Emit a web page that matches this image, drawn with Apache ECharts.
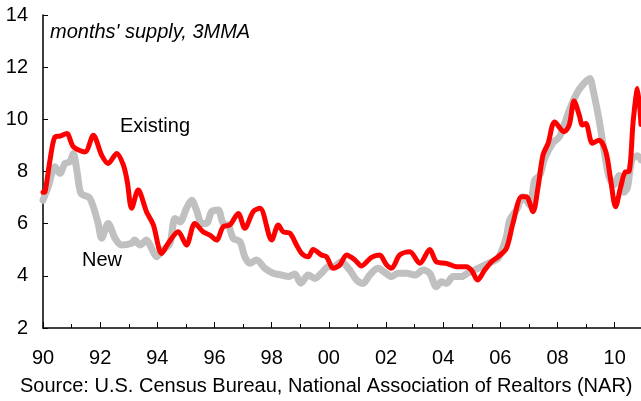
<!DOCTYPE html>
<html>
<head>
<meta charset="utf-8">
<script src="https://cdn.jsdelivr.net/npm/echarts@6/dist/echarts.min.js"></script>
<style>
  html, body { margin: 0; padding: 0; background: #fff; }
  #chart { width: 641px; height: 401px; }
</style>
</head>
<body>
<div id="chart"></div>
<script>
// months' supply, 3 month moving average
var existingYears = [1990.0, 1990.07, 1990.24, 1990.42, 1990.6, 1990.83, 1991.06, 1991.47, 1991.76, 1992.05,
  1992.28, 1992.58, 1992.81, 1992.95, 1993.1, 1993.33, 1993.62, 1993.86, 1994.15, 1994.38,
  1994.73, 1995.02, 1995.31, 1995.6, 1995.84, 1996.07, 1996.3, 1996.54, 1996.83, 1997.06,
  1997.35, 1997.59, 1998.0, 1998.23, 1998.4, 1998.64, 1998.87, 1999.05, 1999.28, 1999.45,
  1999.74, 1999.92, 2000.15, 2000.38, 2000.62, 2000.91, 2001.14, 2001.49, 2001.78, 2002.0,
  2002.19, 2002.48, 2002.83, 2003.18, 2003.53, 2003.76, 2004.11, 2004.46, 2004.81, 2005.0,
  2005.2, 2005.45, 2005.69, 2005.92, 2006.21, 2006.44, 2006.74, 2006.91, 2007.14, 2007.32,
  2007.49, 2007.67, 2007.9, 2008.23, 2008.41, 2008.58, 2008.76, 2008.87, 2008.99, 2009.22,
  2009.45, 2009.69, 2009.86, 2010.03, 2010.21, 2010.38, 2010.5, 2010.65, 2010.8, 2010.92];
var existingValues = [7.2, 7.22, 8.4, 9.33, 9.36, 9.46, 8.95, 8.75, 9.39, 8.63,
  8.31, 8.69, 8.25, 7.6, 6.59, 7.29, 6.46, 5.95, 4.86, 5.25,
  5.69, 5.18, 6.01, 5.69, 5.56, 5.37, 5.88, 5.95, 6.39, 5.82,
  6.46, 6.59, 5.37, 5.95, 5.69, 5.63, 5.18, 4.86, 4.73, 5.01,
  4.8, 4.73, 4.29, 4.41, 4.8, 4.61, 4.38, 4.71, 4.8, 4.45,
  4.29, 4.8, 4.92, 4.48, 5.01, 4.54, 4.48, 4.35, 4.35, 4.2,
  3.84, 4.22, 4.54, 4.73, 5.05, 6.01, 7.03, 7.03, 6.46, 7.41,
  8.63, 9.08, 9.9, 9.52, 9.78, 10.7, 10.16, 9.78, 9.84, 9.08,
  9.2, 8.76, 7.67, 6.65, 7.41, 7.99, 8.0, 9.97, 11.18, 9.8];

var newYears = [1990.0, 1990.18, 1990.42, 1990.59, 1990.77, 1990.94, 1991.06, 1991.2, 1991.33, 1991.64,
  1991.93, 1992.05, 1992.28, 1992.52, 1992.75, 1993.1, 1993.2, 1993.4, 1993.62, 1993.8,
  1993.97, 1994.2, 1994.44, 1994.62, 1994.79, 1995.02, 1995.2, 1995.37, 1995.55, 1995.72,
  1995.9, 1996.13, 1996.3, 1996.48, 1996.65, 1996.89, 1997.06, 1997.24, 1997.47, 1997.76,
  1998.05, 1998.35, 1998.58, 1998.81, 1999.02, 1999.28, 1999.51, 1999.74, 1999.98, 2000.15,
  2000.44, 2000.73, 2000.97, 2001.2, 2001.43, 2001.72, 2001.96, 2002.19, 2002.43, 2002.72,
  2003.01, 2003.3, 2003.53, 2003.76, 2003.94, 2004.11, 2004.35, 2004.64, 2004.85, 2005.1,
  2005.22, 2005.57, 2005.92, 2006.21, 2006.33, 2006.56, 2006.8, 2007.03, 2007.2, 2007.38,
  2007.55, 2007.84, 2008.08, 2008.41, 2008.7, 2008.87, 2009.04, 2009.13, 2009.25, 2009.45,
  2009.63, 2009.8, 2009.98, 2010.15, 2010.33, 2010.45, 2010.6, 2010.8, 2010.92];
var newValues = [6.9, 7.41, 8.18, 7.93, 8.31, 8.37, 8.69, 7.93, 7.16, 6.97,
  6.01, 5.44, 6.01, 5.44, 5.18, 5.25, 5.37, 5.18, 5.37, 5.05,
  4.73, 4.99, 5.25, 6.2, 6.07, 6.59, 6.9, 6.52, 6.01, 6.01,
  6.46, 6.52, 6.01, 5.95, 5.44, 5.31, 4.73, 4.48, 4.61, 4.29,
  4.1, 4.03, 3.97, 4.07, 3.72, 4.03, 3.9, 4.1, 4.35, 4.35,
  4.54, 4.22, 3.84, 3.71, 4.03, 4.29, 4.13, 3.97, 4.1, 4.1,
  4.03, 4.22, 4.1, 3.58, 3.77, 3.71, 3.97, 3.97, 4.1, 4.22,
  4.29, 4.48, 4.67, 5.5, 6.14, 6.52, 7.03, 6.71, 7.67, 7.86,
  8.5, 9.1, 9.35, 10.35, 11.05, 11.31, 11.5, 11.57, 11.1, 10.0,
  8.8, 7.8, 7.5, 7.85, 7.2, 7.4, 8.44, 8.6, 8.45];

var yTicks = [2, 4, 6, 8, 10, 12, 14];

function pairs(xs, ys) {
  return xs.map(function (x, i) { return [x, ys[i]]; });
}

var font = '"Liberation Sans", Arial, sans-serif';
var myChart = echarts.init(document.getElementById('chart'));
myChart.setOption({
  animation: false,
  grid: { left: 43, right: 0, top: 15, bottom: 73 },
  xAxis: {
    type: 'value',
    min: 1990,
    max: 2010.92,
    interval: 2,
    splitLine: { show: false },
    axisLine: { lineStyle: { color: '#000', width: 1.5 } },
    axisTick: { inside: true, length: 6, lineStyle: { color: '#000', width: 1 } },
    minorTick: { show: true, splitNumber: 2, length: 4, lineStyle: { color: '#000', width: 1 } },
    axisLabel: {
      color: '#000', fontSize: 20, fontFamily: font, margin: 20, showMaxLabel: false,
      formatter: function (v) {
        if (Math.abs(v - Math.round(v)) > 0.01) return '';
        return String(Math.round(v) % 100).padStart(2, '0');
      }
    }
  },
  yAxis: {
    type: 'value',
    min: yTicks[0],
    max: yTicks[yTicks.length - 1],
    interval: 2,
    splitLine: { show: false },
    axisLine: { show: true, lineStyle: { color: '#000', width: 1.5 } },
    axisTick: { show: true, inside: true, length: 5, lineStyle: { color: '#000' } },
    axisLabel: { color: '#000', fontSize: 20, fontFamily: font, margin: 15 }
  },
  series: [
    {
      name: 'New',
      type: 'line',
      data: pairs(newYears, newValues),
      showSymbol: false,
      smooth: 0.3,
      lineStyle: { color: '#c0c0c0', width: 7, cap: 'round', join: 'round' },
      z: 2
    },
    {
      name: 'Existing',
      type: 'line',
      data: pairs(existingYears, existingValues),
      showSymbol: false,
      smooth: 0.3,
      lineStyle: { color: '#ff0000', width: 5, cap: 'round', join: 'round' },
      z: 3
    }
  ],
  graphic: [
    { type: 'text', left: 50, top: 22,
      style: { text: "months' supply, 3MMA", font: 'italic 20px ' + font, fill: '#000' } },
    { type: 'text', left: 120, top: 116,
      style: { text: 'Existing', font: '20px ' + font, fill: '#000' } },
    { type: 'text', left: 82, top: 250,
      style: { text: 'New', font: '20px ' + font, fill: '#000' } },
    { type: 'text', left: 20, top: 376,
      style: { text: 'Source: U.S. Census Bureau, National Association of Realtors (NAR)', font: '20px ' + font, fill: '#000' } }
  ]
});
</script>
</body>
</html>
